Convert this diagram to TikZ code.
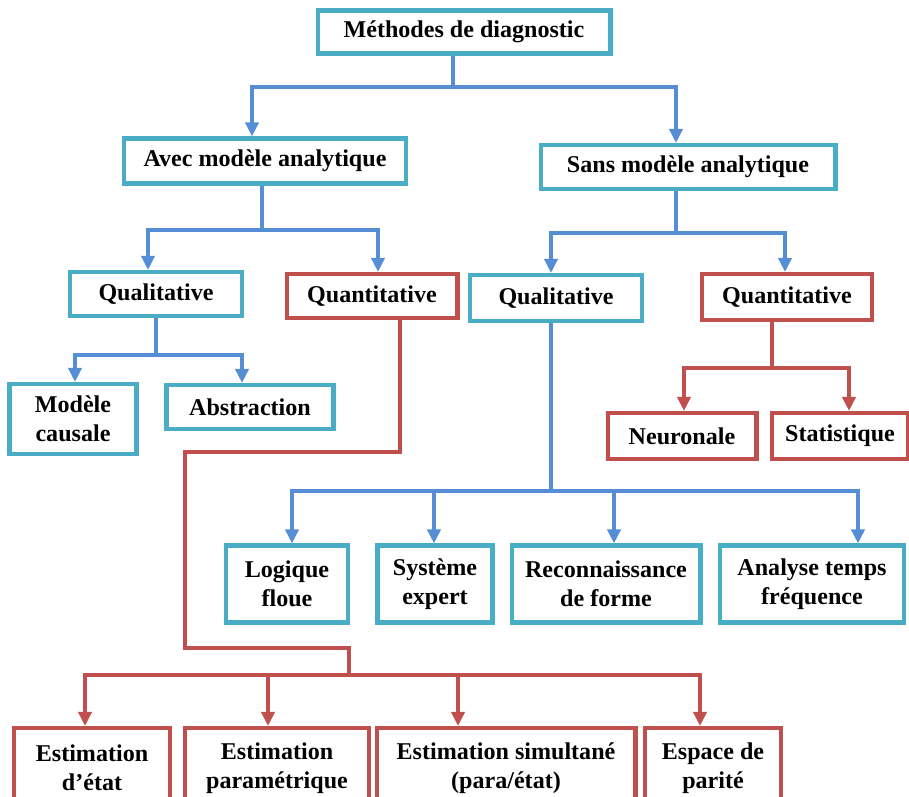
\documentclass[tikz,border=0pt]{standalone}
\usepackage{fontspec}
\setmainfont{Liberation Serif}
\usetikzlibrary{arrows.meta}
\definecolor{bleu}{RGB}{75,172,198}
\definecolor{rouge}{RGB}{192,80,77}
\definecolor{trait}{RGB}{85,142,213}

\begin{document}
\begin{tikzpicture}[x=0.02cm, y=-0.02cm,
    every node/.style={line width=2.3pt, fill=white, align=center, inner sep=0pt,
      font=\fontsize{13.7}{16.5}\selectfont\bfseries},
    qual/.style={draw=bleu},
    quant/.style={draw=rouge},
    bl/.style={trait, line width=2pt},
    rl/.style={rouge, line width=2pt},
    fl/.style={-{Triangle[length=2.8mm,width=2.6mm]}}]
  \clip (0,0) rectangle (909,797);

  % Nodos
  \node[qual, minimum width=5.86cm, minimum height=0.86cm] (meth) at (464,32) {Méthodes de diagnostic};
  \node[qual, minimum width=5.66cm, minimum height=0.9cm] (avec) at (265,161) {Avec modèle analytique};
  \node[qual, minimum width=5.9cm, minimum height=0.88cm] (sans) at (688,167) {Sans modèle analytique};
  \node[qual, minimum width=3.44cm, minimum height=0.88cm] (qualA) at (156,294) {Qualitative};
  \node[quant, minimum width=3.42cm, minimum height=0.88cm] (quantA) at (372,296) {Quantitative};
  \node[qual, minimum width=3.44cm, minimum height=0.92cm] (qualS) at (556,298) {Qualitative};
  \node[quant, minimum width=3.4cm, minimum height=0.92cm] (quantS) at (787,297) {Quantitative};
  \node[qual, minimum width=2.54cm, minimum height=1.4cm] (causale) at (73,419) {Modèle\\causale};
  \node[qual, minimum width=3.34cm, minimum height=0.88cm] (abstr) at (250,407) {Abstraction};
  \node[quant, minimum width=2.98cm, minimum height=0.92cm] (neuro) at (682,436) {Neuronale};
  \node[quant, minimum width=2.72cm, minimum height=0.92cm] (stat) at (840,436) {Statistique};
  \node[qual, minimum width=2.44cm, minimum height=1.54cm] (logique) at (287,584) {Logique\\floue};
  \node[qual, minimum width=2.3cm, minimum height=1.54cm] (systeme) at (435,584) {Système\\expert};
  \node[qual, minimum width=3.78cm, minimum height=1.54cm] (reconn) at (606,584) {Reconnaissance\\de forme};
  \node[qual, minimum width=3.68cm, minimum height=1.54cm] (analyse) at (812,584) {Analyse temps\\fréquence};
  \node[quant, minimum width=3.12cm, minimum height=1.6cm] (etat) at (92,768) {Estimation\\d’état};
  \node[quant, minimum width=3.68cm, minimum height=1.6cm] (param) at (277,768) {Estimation\\paramétrique};
  \node[quant, minimum width=5.18cm, minimum height=1.6cm] (simul) at (506,768) {Estimation simultané\\(para/état)};
  \node[quant, minimum width=2.72cm, minimum height=1.6cm] (parite) at (713,768) {Espace de\\parité};

  % Coudes
  \coordinate (j0) at (453,87);
  \coordinate (a1) at (252,87);
  \coordinate (a2) at (676,87);
  \coordinate (j1) at (262,230);
  \coordinate (b1) at (148,230);
  \coordinate (b2) at (378,230);
  \coordinate (j2) at (676,233);
  \coordinate (c1) at (551,233);
  \coordinate (c2) at (785,233);
  \coordinate (j3) at (156,355);
  \coordinate (d1) at (75,355);
  \coordinate (d2) at (242,355);
  \coordinate (j4) at (551,491);
  \coordinate (e1) at (292,491);
  \coordinate (e2) at (434,491);
  \coordinate (e3) at (614,491);
  \coordinate (e4) at (858,491);
  \coordinate (j5) at (772,368);
  \coordinate (f1) at (684,368);
  \coordinate (f2) at (849,368);
  \coordinate (k1) at (400,452);
  \coordinate (k2) at (185,452);
  \coordinate (k3) at (185,648);
  \coordinate (k4) at (349,648);
  \coordinate (j6) at (349,675);
  \coordinate (g1) at (85,675);
  \coordinate (g2) at (268,675);
  \coordinate (g3) at (458,675);
  \coordinate (g4) at (700,675);

  % Aristas
  \draw[bl] (meth.south -| j0) -- (j0);
  \draw[bl, fl] (j0) -- (a1) -- (avec.north -| a1);
  \draw[bl, fl] (j0) -- (a2) -- (sans.north -| a2);
  \draw[bl] (avec.south -| j1) -- (j1);
  \draw[bl, fl] (j1) -- (b1) -- (qualA.north -| b1);
  \draw[bl, fl] (j1) -- (b2) -- (quantA.north -| b2);
  \draw[bl] (sans.south -| j2) -- (j2);
  \draw[bl, fl] (j2) -- (c1) -- (qualS.north -| c1);
  \draw[bl, fl] (j2) -- (c2) -- (quantS.north -| c2);
  \draw[bl] (qualA.south -| j3) -- (j3);
  \draw[bl, fl] (j3) -- (d1) -- (causale.north -| d1);
  \draw[bl, fl] (j3) -- (d2) -- (abstr.north -| d2);
  \draw[bl] (qualS.south -| j4) -- (j4);
  \draw[bl, fl] (j4) -- (e1) -- (logique.north -| e1);
  \draw[bl, fl] (e2) -- (systeme.north -| e2);
  \draw[bl, fl] (e3) -- (reconn.north -| e3);
  \draw[bl, fl] (j4) -- (e4) -- (analyse.north -| e4);
  \draw[rl] (quantS.south -| j5) -- (j5);
  \draw[rl, fl] (j5) -- (f1) -- (neuro.north -| f1);
  \draw[rl, fl] (j5) -- (f2) -- (stat.north -| f2);
  \draw[rl] (quantA.south -| k1) -- (k1) -- (k2) -- (k3) -- (k4) -- (j6);
  \draw[rl, fl] (j6) -- (g1) -- (etat.north -| g1);
  \draw[rl, fl] (g2) -- (param.north -| g2);
  \draw[rl, fl] (g3) -- (simul.north -| g3);
  \draw[rl, fl] (j6) -- (g4) -- (parite.north -| g4);
\end{tikzpicture}
\end{document}
